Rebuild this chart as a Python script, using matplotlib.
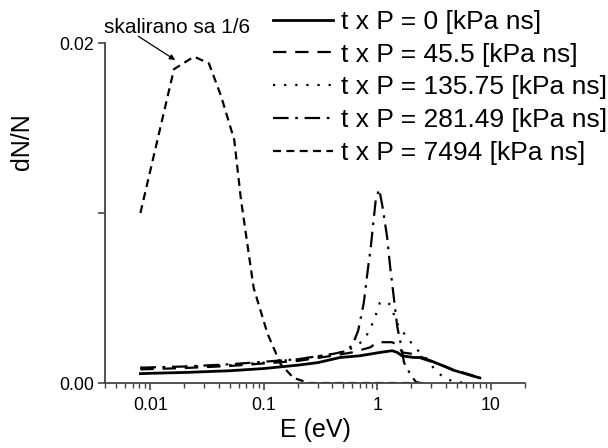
import matplotlib
matplotlib.use("Agg")
import matplotlib.pyplot as plt
from matplotlib.ticker import FixedLocator, LogLocator, NullFormatter, FixedFormatter

plt.rcParams['font.family'] = ['Liberation Sans', 'DejaVu Sans']

# Energy distributions dN/N vs E (eV) for several exposures t x P
labels = ["t x P = 0 [kPa ns]", "t x P = 45.5 [kPa ns]", "t x P = 135.75 [kPa ns]",
          "t x P = 281.49 [kPa ns]", "t x P = 7494 [kPa ns]"]

E_0 = [0.0082, 0.01, 0.02, 0.05, 0.1, 0.2, 0.3, 0.47, 0.7, 1.06, 1.35, 1.5, 1.65,
       2.1, 2.35, 2.9, 3.1, 4.0, 4.6, 6.5, 8.0]
N_0 = [0.00055, 0.00057, 0.00062, 0.00072, 0.00085, 0.00105, 0.0012, 0.0015, 0.0016,
       0.0018, 0.0019, 0.0018, 0.0016, 0.0015, 0.0015, 0.0013, 0.00125, 0.00095,
       0.00077, 0.00047, 0.0003]

E_45 = [0.0082, 0.02, 0.05, 0.1, 0.2, 0.4, 0.6, 0.87, 1.0, 1.35, 1.55, 1.65, 2.1,
        3.0, 4.6, 6.5, 8.0]
N_45 = [0.0008, 0.00088, 0.001, 0.00115, 0.0013, 0.0016, 0.0018, 0.0021, 0.0024,
        0.0024, 0.0022, 0.0018, 0.0017, 0.0013, 0.0008, 0.0005, 0.0003]

E_135 = [0.0082, 0.02, 0.05, 0.1, 0.2, 0.4, 0.55, 0.76, 0.87, 0.97, 1.05, 1.2, 1.3,
         1.5, 1.77, 2.2, 2.6, 3.2, 3.8, 4.6, 6.0]
N_135 = [0.0009, 0.00095, 0.00105, 0.0012, 0.0014, 0.0017, 0.0019, 0.0025, 0.0032,
         0.004, 0.0047, 0.0048, 0.0046, 0.0035, 0.0028, 0.002, 0.0016, 0.0008,
         0.00035, 0.0001, 0.0]

E_281 = [0.0082, 0.02, 0.05, 0.1, 0.2, 0.4, 0.55, 0.62, 0.68, 0.76, 0.83, 0.87, 0.97,
         1.04, 1.11, 1.22, 1.3, 1.35, 1.5, 1.6, 1.72, 2.0, 2.2, 2.4]
N_281 = [0.0009, 0.00097, 0.0011, 0.00125, 0.0014, 0.0017, 0.0019, 0.0024, 0.0031,
         0.0047, 0.0068, 0.0078, 0.0108, 0.0114, 0.0104, 0.0086, 0.0068, 0.0059,
         0.0033, 0.0024, 0.0012, 0.0004, 0.00005, 0.0]

# scaled by 1/6
E_7494 = [0.0082, 0.0162, 0.0243, 0.0329, 0.042, 0.055, 0.063, 0.0815, 0.108, 0.141,
          0.183, 0.25, 0.5, 1.0, 2.0, 2.5]
N_7494 = [0.0100, 0.01846, 0.0192, 0.0188, 0.0169, 0.0143, 0.0108, 0.0056, 0.0029,
          0.0011, 0.0003, 0.0, 0.0, 0.0, 0.0, 0.0]

y_ticks = [0.0, 0.01, 0.02]
y_ticklabels = ["0.00", "", "0.02"]
x_ticks = [0.01, 0.1, 1, 10]
x_ticklabels = ["0.01", "0.1", "1", "10"]

fig = plt.figure(figsize=(6.08, 4.48), dpi=100)
ax = fig.add_axes([105 / 608, 65 / 448, 420 / 608, 340 / 448])

ax.plot(E_0, N_0, color='black', lw=2.0, ls='-', label=labels[0])
ax.plot(E_45, N_45, color='black', lw=1.6, ls=(0, (6, 4)), label=labels[1])
ax.plot(E_135, N_135, color='black', lw=1.6, ls=(0, (1, 4)), label=labels[2])
ax.plot(E_281, N_281, color='black', lw=1.6, ls=(0, (7, 3, 1.2, 3)), label=labels[3])
ax.plot(E_7494, N_7494, color='black', lw=1.6, ls=(0, (3.6, 2.4)), label=labels[4])

ax.set_xscale('log')
ax.set_xlim(0.004, 20)
ax.set_ylim(0, 0.02)

ax.xaxis.set_major_locator(FixedLocator(x_ticks))
ax.xaxis.set_major_formatter(FixedFormatter(x_ticklabels))
ax.xaxis.set_minor_locator(LogLocator(base=10, subs=range(2, 10), numticks=20))
ax.xaxis.set_minor_formatter(NullFormatter())
ax.yaxis.set_major_locator(FixedLocator(y_ticks))
ax.yaxis.set_major_formatter(FixedFormatter(y_ticklabels))

for side in ('top', 'right'):
    ax.spines[side].set_visible(False)
for side in ('left', 'bottom'):
    ax.spines[side].set_color('#444444')
    ax.spines[side].set_linewidth(1.3)

ax.tick_params(axis='both', which='major', direction='out', length=5, width=1.2,
               color='#444444', labelsize=12.8, pad=3)
ax.tick_params(axis='x', which='major', pad=5)
ax.tick_params(axis='x', which='minor', direction='out', length=3.3, width=1.0,
               color='#444444')

ax.set_xlabel("E (eV)", fontsize=18, va='center', ha='center')
ax.set_ylabel("dN/N", fontsize=18, va='center', ha='center')
ax.xaxis.set_label_coords(0.5, -0.138)
ax.yaxis.set_label_coords(-0.198, 0.71)

# arrow pointing at the scaled curve, with its note above
ax.annotate("", xy=(0.0166, 0.0190), xytext=(0.00785, 0.0204),
            annotation_clip=False,
            arrowprops=dict(arrowstyle='-|>', color='black', lw=0.9,
                            mutation_scale=8, shrinkA=0, shrinkB=0))
ax.text(0.0173, 0.0209, "skalirano sa 1/6", fontsize=15, ha='center', va='center',
        clip_on=False)

fig.legend(loc='upper left', bbox_to_anchor=(273 / 608, 1 - 10 / 448), frameon=False,
           fontsize=19, handlelength=2.27, handletextpad=0.3, labelspacing=0.33,
           borderpad=0, borderaxespad=0)

fig.savefig("out.png", dpi=100)
